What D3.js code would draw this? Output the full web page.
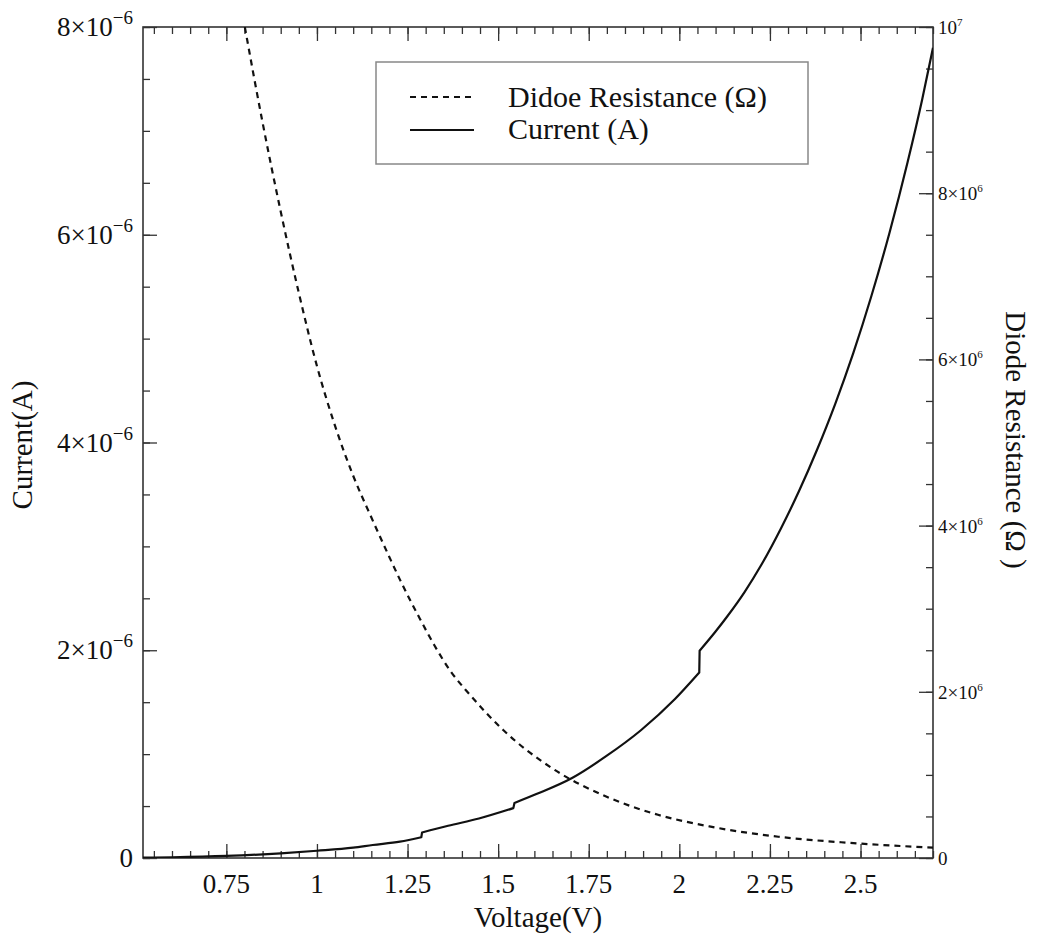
<!DOCTYPE html>
<html>
<head>
<meta charset="utf-8">
<script src="https://cdn.jsdelivr.net/npm/d3@7"></script>
<style>
  html, body { margin: 0; padding: 0; background: #fff; }
  svg { display: block; font-family: "Liberation Serif", "Times New Roman", serif; }
</style>
</head>
<body>
<svg id="chart" width="1037" height="942"></svg>
<script>
// Diode current (A) versus voltage (V); repeated voltages mark the range-switch steps
const currentVoltage = [0.52, 0.60, 0.75, 0.90, 1.00, 1.10, 1.154, 1.229, 1.288, 1.290, 1.362, 1.447, 1.542, 1.545, 1.609, 1.704, 1.798, 1.894, 1.988, 2.055, 2.056, 2.100, 2.131, 2.180, 2.226, 2.280, 2.330, 2.380, 2.430, 2.480, 2.530, 2.580, 2.630, 2.670, 2.700];
const currentAmps = [0.003e-6, 0.007e-6, 0.020e-6, 0.045e-6, 0.070e-6, 0.100e-6, 0.125e-6, 0.157e-6, 0.200e-6, 0.245e-6, 0.310e-6, 0.380e-6, 0.480e-6, 0.530e-6, 0.620e-6, 0.770e-6, 0.980e-6, 1.230e-6, 1.530e-6, 1.785e-6, 1.995e-6, 2.180e-6, 2.320e-6, 2.560e-6, 2.820e-6, 3.170e-6, 3.530e-6, 3.930e-6, 4.370e-6, 4.860e-6, 5.410e-6, 6.020e-6, 6.700e-6, 7.300e-6, 7.800e-6];
// segments between steps (index ranges into the arrays above)
const currentSegments = [[0, 8], [9, 12], [13, 19], [20, 34]];

// Diode resistance (Ω) versus voltage (V)
const resistanceVoltage = [0.801, 0.85, 0.90, 0.95, 1.00, 1.05, 1.10, 1.15, 1.20, 1.229, 1.284, 1.324, 1.37, 1.419, 1.514, 1.656, 1.798, 1.941, 2.083, 2.273, 2.463, 2.70];
const resistanceOhms = [10.0e6, 8.85e6, 7.78e6, 6.80e6, 5.92e6, 5.20e6, 4.60e6, 4.10e6, 3.62e6, 3.35e6, 2.88e6, 2.56e6, 2.24e6, 1.98e6, 1.54e6, 1.06e6, 0.74e6, 0.52e6, 0.38e6, 0.256e6, 0.184e6, 0.125e6];

// Axis ticks and their labels
const xTicks = [0.75, 1, 1.25, 1.5, 1.75, 2, 2.25, 2.5];
const xTickLabels = ["0.75", "1", "1.25", "1.5", "1.75", "2", "2.25", "2.5"];
const currentTicks = [0, 2e-6, 4e-6, 6e-6, 8e-6];
const currentTickMantissa = ["0", "2", "4", "6", "8"];
const resistanceTicks = [0, 2e6, 4e6, 6e6, 8e6, 1e7];
const resistanceTickMantissa = ["0", "2", "4", "6", "8", ""];

const legendLabels = ["Didoe Resistance (Ω)", "Current (A)"];

const svg = d3.select("#chart");
const L = 143, R = 933, T = 27, B = 858;

const x = d3.scaleLinear().domain([0.52, 2.70]).range([L, R]);
const yI = d3.scaleLinear().domain([0, 8e-6]).range([B, T]);
const yR = d3.scaleLinear().domain([0, 1e7]).range([B, T]);

const axisColor = "#333";
const majorLen = 14, minorLen = 7;

function styleAxis(g) {
  g.select(".domain").remove();
  g.selectAll(".tick line").attr("stroke", axisColor).attr("stroke-width", 1.3);
  g.selectAll(".tick text").remove();
}

const xMinor = d3.range(0.55, 2.701, 0.05).map(v => +v.toFixed(2));
const iMinor = d3.range(0, 8.01e-6, 0.5e-6);
const rMinor = d3.range(0, 1.001e7, 0.5e6);

// bottom and top ticks (pointing inward)
svg.append("g").attr("transform", `translate(0,${B})`)
  .call(d3.axisBottom(x).tickValues(xMinor).tickSizeInner(-minorLen).tickSizeOuter(0)).call(styleAxis);
svg.append("g").attr("transform", `translate(0,${B})`)
  .call(d3.axisBottom(x).tickValues(xTicks).tickSizeInner(-majorLen).tickSizeOuter(0)).call(styleAxis);
svg.append("g").attr("transform", `translate(0,${T})`)
  .call(d3.axisTop(x).tickValues(xMinor).tickSizeInner(-minorLen).tickSizeOuter(0)).call(styleAxis);
svg.append("g").attr("transform", `translate(0,${T})`)
  .call(d3.axisTop(x).tickValues(xTicks).tickSizeInner(-majorLen).tickSizeOuter(0)).call(styleAxis);

// left (current) ticks
svg.append("g").attr("transform", `translate(${L},0)`)
  .call(d3.axisLeft(yI).tickValues(iMinor).tickSizeInner(-minorLen).tickSizeOuter(0)).call(styleAxis);
svg.append("g").attr("transform", `translate(${L},0)`)
  .call(d3.axisLeft(yI).tickValues(currentTicks).tickSizeInner(-majorLen).tickSizeOuter(0)).call(styleAxis);

// right (resistance) ticks
svg.append("g").attr("transform", `translate(${R},0)`)
  .call(d3.axisRight(yR).tickValues(rMinor).tickSizeInner(-minorLen).tickSizeOuter(0)).call(styleAxis);
svg.append("g").attr("transform", `translate(${R},0)`)
  .call(d3.axisRight(yR).tickValues(resistanceTicks).tickSizeInner(-majorLen).tickSizeOuter(0)).call(styleAxis);

// frame
svg.append("rect")
  .attr("x", L).attr("y", T).attr("width", R - L).attr("height", B - T)
  .attr("fill", "none").attr("stroke", axisColor).attr("stroke-width", 1.6);

// x tick labels
svg.append("g").selectAll("text").data(xTicks).join("text")
  .attr("x", d => x(d)).attr("y", 893)
  .attr("text-anchor", "middle").attr("font-size", 27).attr("fill", "#111")
  .text((d, i) => xTickLabels[i]);

// left tick labels: m×10^-6
const leftLab = svg.append("g").selectAll("text").data(currentTicks).join("text")
  .attr("x", 133).attr("y", d => yI(d) + 9)
  .attr("text-anchor", "end").attr("font-size", 27).attr("fill", "#111");
leftLab.each(function (d, i) {
  const t = d3.select(this);
  if (d === 0) { t.text(currentTickMantissa[i]); return; }
  t.append("tspan").text(currentTickMantissa[i] + "×10");
  t.append("tspan").attr("font-size", 19).attr("dy", -12).text("−6");
});

// right tick labels: m×10^6, and 10^7 at the top
const rightLab = svg.append("g").selectAll("text").data(resistanceTicks).join("text")
  .attr("x", 938).attr("y", d => yR(d) + 7)
  .attr("text-anchor", "start").attr("font-size", 19).attr("fill", "#111");
rightLab.each(function (d, i) {
  const t = d3.select(this);
  if (d === 0) { t.text("0"); return; }
  if (d === 1e7) {
    t.append("tspan").text("10");
    t.append("tspan").attr("font-size", 11).attr("dy", -8).text("7");
    return;
  }
  t.append("tspan").text(resistanceTickMantissa[i] + "×10");
  t.append("tspan").attr("font-size", 11).attr("dy", -8).text("6");
});

// axis titles
svg.append("text").attr("x", 538).attr("y", 927)
  .attr("text-anchor", "middle").attr("font-size", 29).attr("fill", "#111")
  .text("Voltage(V)");
svg.append("text").attr("transform", "translate(32,445) rotate(-90)")
  .attr("text-anchor", "middle").attr("font-size", 29).attr("fill", "#111")
  .text("Current(A)");
svg.append("text").attr("transform", "translate(1006,440) rotate(90)")
  .attr("text-anchor", "middle").attr("font-size", 29).attr("fill", "#111")
  .text("Diode Resistance (Ω )");

// curves
const plot = svg.append("g");
plot.append("clipPath").attr("id", "clip")
  .append("rect").attr("x", L).attr("y", T).attr("width", R - L).attr("height", B - T);

const resLine = d3.line().x((d, i) => x(resistanceVoltage[i])).y(d => yR(d)).curve(d3.curveMonotoneX);
plot.append("path").datum(resistanceOhms)
  .attr("clip-path", "url(#clip)")
  .attr("d", resLine).attr("fill", "none").attr("stroke", "#111")
  .attr("stroke-width", 2.2).attr("stroke-dasharray", "6,5");

// current: smooth within each segment, joined by straight steps
const curLine = d3.line().x(d => x(d[0])).y(d => yI(d[1])).curve(d3.curveMonotoneX);
const curPath = currentSegments.map((seg, k) => {
  const pts = d3.range(seg[0], seg[1] + 1).map(i => [currentVoltage[i], currentAmps[i]]);
  const d = curLine(pts);
  return k === 0 ? d : d.replace(/^M/, "L");
}).join("");
plot.append("path")
  .attr("clip-path", "url(#clip)")
  .attr("d", curPath).attr("fill", "none").attr("stroke", "#111")
  .attr("stroke-width", 2.2).attr("stroke-linejoin", "round");

// legend
const lg = svg.append("g");
lg.append("rect").attr("x", 376).attr("y", 62).attr("width", 432).attr("height", 102)
  .attr("fill", "#fff").attr("stroke", "#888").attr("stroke-width", 1.5);
lg.append("line").attr("x1", 410).attr("x2", 472).attr("y1", 97).attr("y2", 97)
  .attr("stroke", "#111").attr("stroke-width", 2).attr("stroke-dasharray", "6,5");
lg.append("line").attr("x1", 410).attr("x2", 474).attr("y1", 130).attr("y2", 130)
  .attr("stroke", "#111").attr("stroke-width", 2.2);
lg.selectAll("text.lab").data(legendLabels).join("text").attr("class", "lab")
  .attr("x", 508).attr("y", (d, i) => 107 + i * 32)
  .attr("font-size", 30).attr("fill", "#111")
  .text(d => d);
</script>
</body>
</html>
